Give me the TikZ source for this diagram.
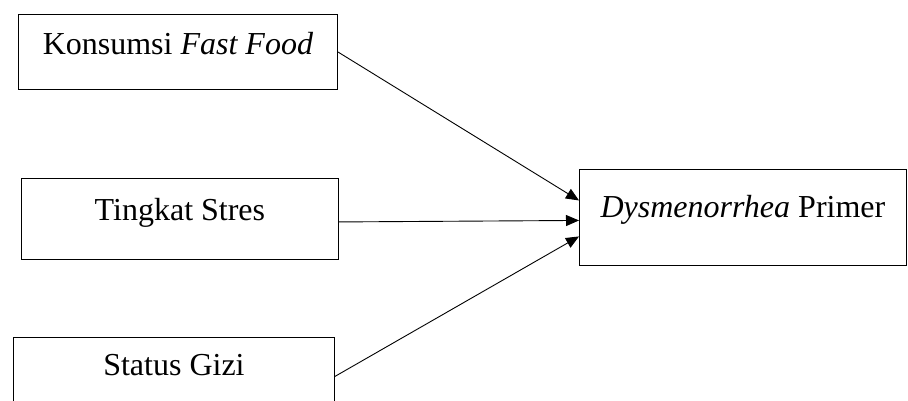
\documentclass[tikz,border=0pt]{standalone}
\usepackage{fontspec}
\setmainfont{Liberation Serif}
\usetikzlibrary{arrows.meta}

\tikzset{
  varbox/.style={draw, line width=0.9pt, anchor=north west, inner sep=0pt, align=center},
  link/.style={line width=0.9pt, -{Triangle[length=13pt, width=11pt]}}
}

\begin{document}
\begin{tikzpicture}[x=1pt, y=-1pt, font=\fontsize{32}{38}\selectfont]
  \useasboundingbox (0, 0) rectangle (908, 401);
  \clip (0, 0) rectangle (908, 401);
  \node[varbox, minimum width=319pt, text height=40pt, text depth=35pt] (konsumsi) at (18, 14) {Konsumsi \textit{Fast Food}};
  \node[varbox, minimum width=317pt, text height=42pt, text depth=39pt] (stres) at (21, 178) {Tingkat Stres};
  \node[varbox, minimum width=321pt, text height=38pt, text depth=40pt] (gizi) at (13, 337) {Status Gizi};
  \node[varbox, minimum width=327pt, text height=48pt, text depth=48pt] (dysme) at (579, 169) {\textit{Dysmenorrhea} Primer};
  % arrows into the outcome box
  \draw[link] (konsumsi.east) -- ([yshift=17pt]dysme.west);
  \draw[link] ([yshift=-3pt]stres.east) -- ([yshift=-3pt]dysme.west);
  \draw[link] (gizi.east) -- ([yshift=-19pt]dysme.west);
\end{tikzpicture}
\end{document}
